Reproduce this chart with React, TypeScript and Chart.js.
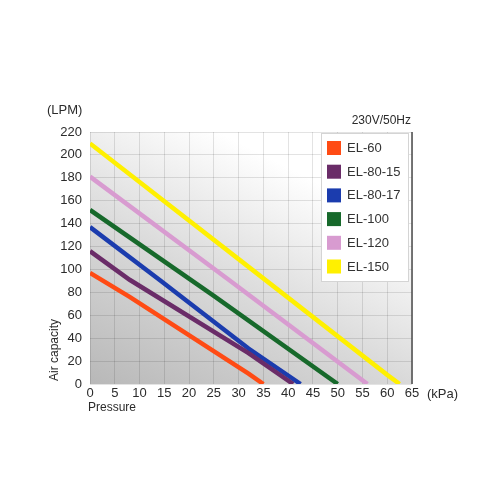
import React, { useEffect, useRef } from "react";
import { Chart, registerables } from "chart.js";

Chart.register(...registerables);

const FONT = "'Liberation Sans', Arial, Helvetica, sans-serif";

const seriesLabels = ["EL-60", "EL-80-15", "EL-80-17", "EL-100", "EL-120", "EL-150"];
const seriesColors = ["#ff4b14", "#6a2c68", "#1b3cae", "#17692b", "#d89bd0", "#fff000"];

const pressureEL60 = [0, 8, 32, 35];
const capacityEL60 = [97, 76, 9, 0];
const pressureEL8015 = [0, 8, 32, 41];
const capacityEL8015 = [116, 91, 27, 0];
const pressureEL8017 = [0, 14, 32, 42.5];
const capacityEL8017 = [137, 91, 31, 0];
const pressureEL100 = [0, 25, 50];
const capacityEL100 = [152, 77, 0];
const pressureEL120 = [0, 28, 56];
const capacityEL120 = [181, 91, 0];
const pressureEL150 = [0, 30, 60, 62.5];
const capacityEL150 = [210, 109, 8, 0];

const seriesPressures = [pressureEL60, pressureEL8015, pressureEL8017, pressureEL100, pressureEL120, pressureEL150];
const seriesCapacities = [capacityEL60, capacityEL8015, capacityEL8017, capacityEL100, capacityEL120, capacityEL150];

const xMin = 0;
const xMax = 65;
const xStep = 5;
const yMin = 0;
const yMax = 220;
const yStep = 20;

const yUnitLabel = "(LPM)";
const xUnitLabel = "(kPa)";
const yTitle = "Air capacity";
const xTitle = "Pressure";
const noteLabel = "230V/50Hz";

const backgroundPlugin = {
  id: "bgGradient",
  beforeDraw(chart: any) {
    const { ctx, chartArea } = chart;
    const { left, right, top, bottom } = chartArea;
    const g = ctx.createLinearGradient(left, bottom, left + (right - left) * 0.4, top);
    g.addColorStop(0, "#b8b8b8");
    g.addColorStop(0.5, "#d8d8d8");
    g.addColorStop(1, "#ffffff");
    ctx.save();
    ctx.fillStyle = g;
    ctx.fillRect(left, top, right - left, bottom - top);
    ctx.restore();
  },
};

const frameLegendPlugin = {
  id: "frameLegend",
  afterDatasetsDraw(chart: any) {
    const { ctx, chartArea } = chart;
    const { right, top, bottom } = chartArea;
    ctx.save();
    ctx.strokeStyle = "#4a4a4a";
    ctx.lineWidth = 1.5;
    ctx.beginPath();
    ctx.moveTo(right, top);
    ctx.lineTo(right, bottom);
    ctx.stroke();

    const bw = 88;
    const bh = 149;
    const bx = right - 3 - bw;
    const by = top + 1;
    ctx.fillStyle = "#ffffff";
    ctx.fillRect(bx, by, bw, bh);
    ctx.strokeStyle = "#d4d4d4";
    ctx.lineWidth = 1;
    ctx.strokeRect(bx + 0.5, by + 0.5, bw - 1, bh - 1);

    ctx.font = `13px ${FONT}`;
    ctx.textBaseline = "middle";
    ctx.textAlign = "left";
    chart.data.datasets.forEach((ds: any, i: number) => {
      const cy = by + 15 + i * 23.7;
      ctx.fillStyle = ds.borderColor;
      ctx.fillRect(bx + 6, cy - 7, 14, 14);
      ctx.fillStyle = "#333333";
      ctx.fillText(ds.label, bx + 26, cy + 0.5);
    });
    ctx.restore();
  },
};

export default function App() {
  const ref = useRef<HTMLCanvasElement | null>(null);

  useEffect(() => {
    if (!ref.current) return;
    const datasets = seriesLabels.map((label, i) => ({
      label,
      data: seriesPressures[i].map((x, j) => ({ x, y: seriesCapacities[i][j] })),
      borderColor: seriesColors[i],
      backgroundColor: seriesColors[i],
      borderWidth: 4.5,
      pointRadius: 0,
      tension: 0,
      fill: false,
      borderCapStyle: "butt" as const,
    }));
    const chart = new Chart(ref.current, {
      type: "line",
      data: { datasets },
      options: {
        animation: false,
        responsive: false,
        devicePixelRatio: 1,
        layout: { padding: { left: 50, right: 88, top: 132, bottom: 86 } },
        plugins: {
          legend: { display: false },
          tooltip: { enabled: false },
        },
        scales: {
          x: {
            type: "linear",
            min: xMin,
            max: xMax,
            ticks: {
              stepSize: xStep,
              color: "#2b2b2b",
              font: { family: FONT, size: 13 },
              padding: 2,
              maxRotation: 0,
              autoSkip: false,
            },
            grid: { color: "rgba(0,0,0,0.11)", drawTicks: false, lineWidth: 1 },
            border: { display: false },
            afterFit: (s: any) => {
              s.height = 30;
            },
          },
          y: {
            type: "linear",
            min: yMin,
            max: yMax,
            ticks: {
              stepSize: yStep,
              color: "#2b2b2b",
              font: { family: FONT, size: 13 },
              padding: 8,
              autoSkip: false,
            },
            grid: { color: "rgba(0,0,0,0.11)", drawTicks: false, lineWidth: 1 },
            border: { display: false },
            afterFit: (s: any) => {
              s.width = 40;
            },
          },
        },
      },
      plugins: [backgroundPlugin, frameLegendPlugin],
    });
    return () => chart.destroy();
  }, []);

  const text = (size: number): React.CSSProperties => ({
    position: "absolute",
    fontFamily: FONT,
    fontSize: size,
    lineHeight: `${size}px`,
    color: "#2b2b2b",
    whiteSpace: "nowrap",
  });

  return (
    <div style={{ position: "absolute", left: 0, top: 0, width: 500, height: 500, background: "#fff" }}>
      <canvas ref={ref} width={500} height={500} style={{ position: "absolute", left: 0, top: 0, width: 500, height: 500 }} />
      <div style={{ ...text(13), left: 47, top: 103 }}>{yUnitLabel}</div>
      <div style={{ ...text(12), right: 89, top: 114 }}>{noteLabel}</div>
      <div style={{ ...text(12), left: 88, top: 401 }}>{xTitle}</div>
      <div style={{ ...text(13), left: 427, top: 387 }}>{xUnitLabel}</div>
      <div
        style={{
          ...text(12),
          left: 54,
          top: 350,
          transform: "translate(-50%, -50%) rotate(-90deg)",
        }}
      >
        {yTitle}
      </div>
    </div>
  );
}
